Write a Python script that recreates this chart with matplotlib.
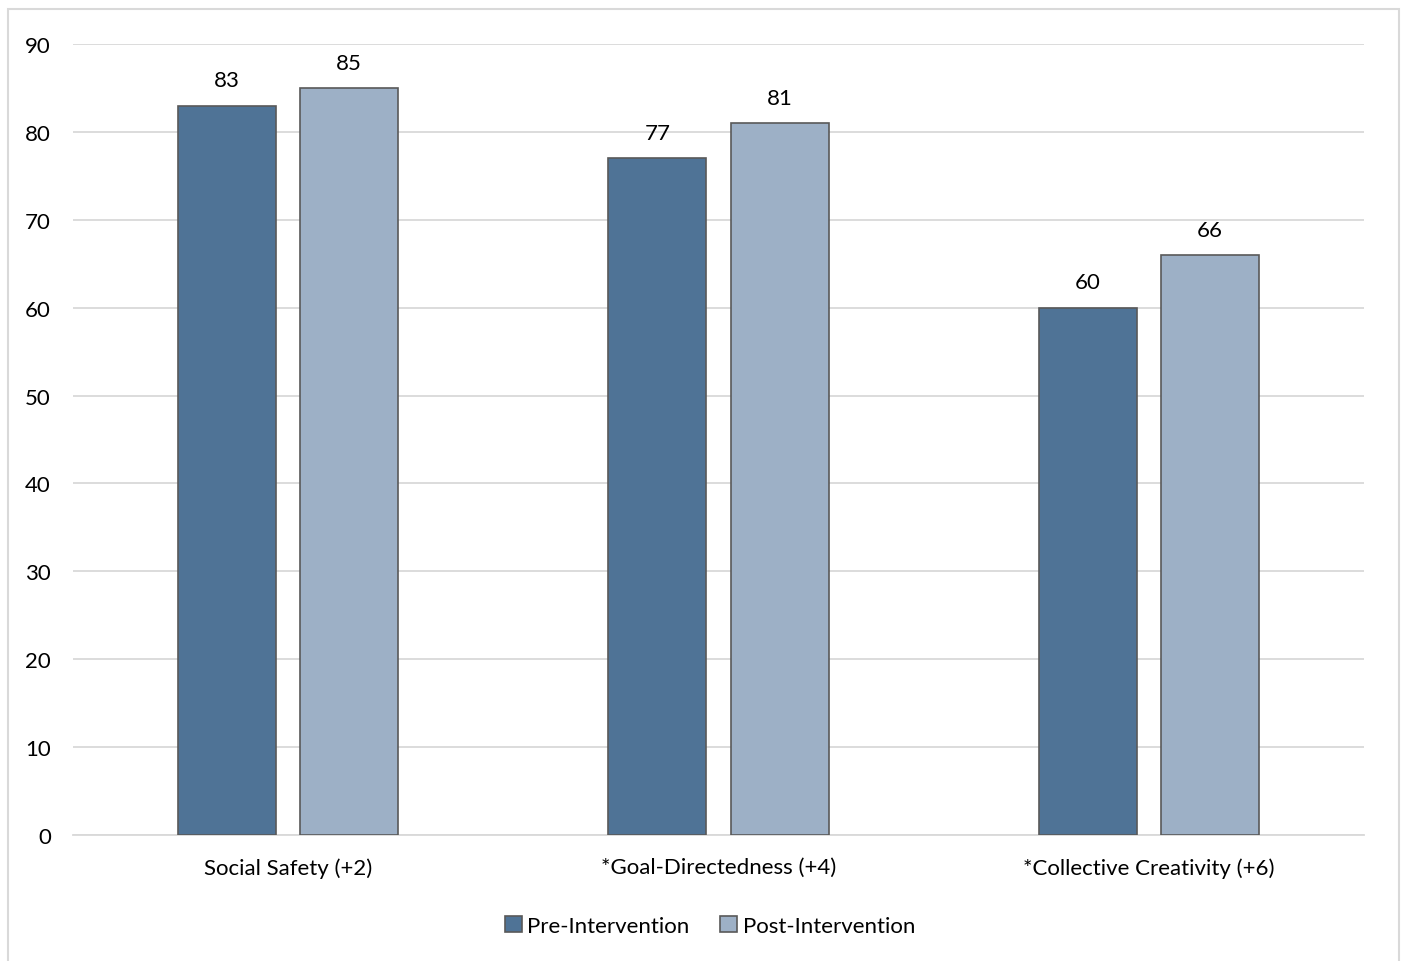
import matplotlib
matplotlib.use("Agg")
import matplotlib.pyplot as plt
import numpy as np
from matplotlib.patches import Rectangle

categories = ["Social Safety (+2)", "*Goal-Directedness (+4)", "*Collective Creativity (+6)"]
series_names = ["Pre-Intervention", "Post-Intervention"]
pre_values = [83, 77, 60]
post_values = [85, 81, 66]
yticks = [0, 10, 20, 30, 40, 50, 60, 70, 80, 90]

plt.rcParams['font.family'] = ['Lato', 'DejaVu Sans']

fig = plt.figure(figsize=(14.06, 9.62), dpi=100)
fig.patches.append(Rectangle((8/1406, -0.01), (1399-8)/1406, 1 - 10/962 + 0.01,
                             transform=fig.transFigure, fill=False,
                             edgecolor='#d9d9d9', linewidth=1.5))
ax = fig.add_axes([73/1406, (962-836)/962, (1364-73)/1406, (836-45)/962])

x = np.arange(len(categories))
w = 0.228
off = 0.142
c_pre = '#4f7396'
c_post = '#9db0c6'
ec = '#595959'
b1 = ax.bar(x - off, pre_values, w, color=c_pre, edgecolor=ec, linewidth=1.2, label=series_names[0], zorder=3)
b2 = ax.bar(x + off, post_values, w, color=c_post, edgecolor=ec, linewidth=1.2, label=series_names[1], zorder=3)
for bars, vals in ((b1, pre_values), (b2, post_values)):
    for r, v in zip(bars, vals):
        ax.annotate(f"{v}", (r.get_x() + r.get_width()/2, v), xytext=(0, 11),
                    textcoords='offset points', ha='center', va='bottom', fontsize=16)

ax.set_xlim(-0.5, 2.5)
ax.set_ylim(0, 90)
ax.set_yticks(yticks)
ax.set_xticks(x)
ax.set_xticklabels(categories, fontsize=16)
ax.tick_params(axis='y', labelsize=16, length=0, pad=16)
ax.tick_params(axis='x', length=0, pad=16)
ax.grid(axis='y', color='#d9d9d9', linewidth=1.3, zorder=0)
for s in ['top', 'right', 'left']:
    ax.spines[s].set_visible(False)
ax.spines['bottom'].set_color('#d9d9d9')
ax.spines['bottom'].set_linewidth(1.3)
ax.set_axisbelow(True)

leg = fig.legend(handles=[b1, b2], labels=series_names, loc='center',
                 bbox_to_anchor=(710/1406, 1 - 927/962), ncol=2, frameon=False,
                 fontsize=16, handlelength=0.75, handleheight=0.75, handletextpad=0.25,
                 columnspacing=1.4)

fig.savefig("out.png", dpi=100)
